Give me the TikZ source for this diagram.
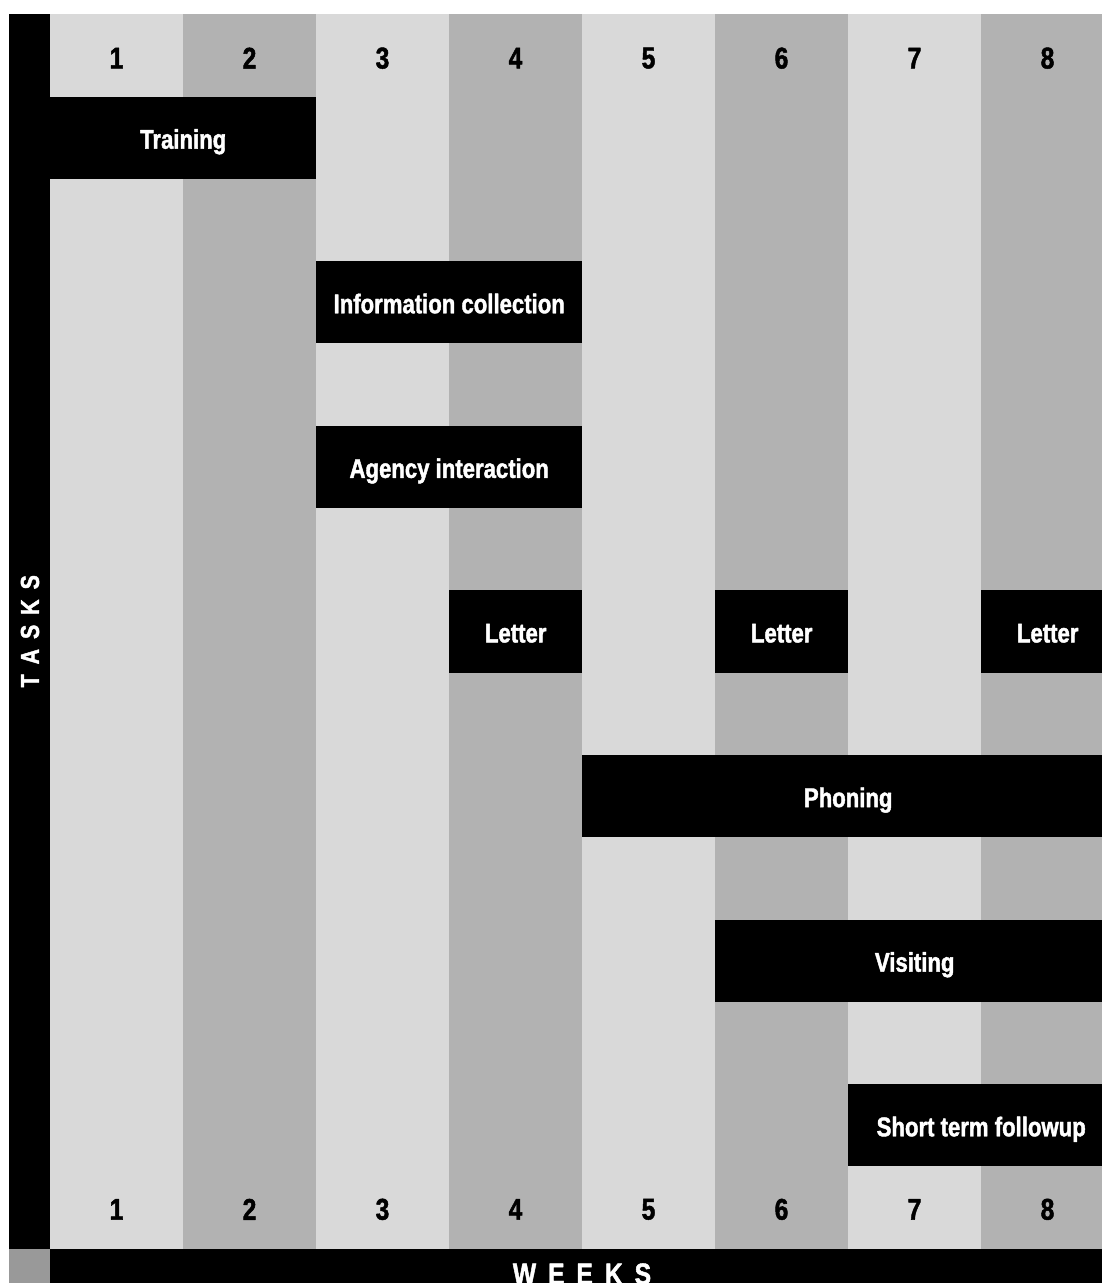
\documentclass[tikz,border=0pt]{standalone}
\usepackage{fontspec}
\setmainfont{Liberation Sans}[FakeStretch=0.82, BoldFeatures={FakeBold=1.6}]
\newcommand{\gfont}[1]{\bfseries\fontsize{#1}{#1}\selectfont}
\begin{document}
\begin{tikzpicture}[x=1pt,y=-1pt, line join=round,
    lite/.style={fill=black!15},
    dark/.style={fill=black!30},
    bar/.style={fill=black, text=white, inner sep=0pt, minimum height=82.3pt, text height=22pt, text depth=0pt,
        anchor=north west, font=\gfont{27}},
    weeknum/.style={font=\gfont{30}},
    axislabel/.style={text=white, inner sep=0pt, font=\gfont{26}}]
        \def\xo{50} \def\yo{14} \def\cw{133} \def\rh{82.3}
        \useasboundingbox (0,0) rectangle (1102,1283);
        \clip (0,0) rectangle (1102,1283);
        \foreach \i in {1,...,8}{
            \pgfmathsetmacro\shade{isodd(\i) ? "lite" : "dark"}
            \fill[\shade] ({\xo+(\i-1)*\cw},\yo) rectangle ({\xo+\i*\cw},{\yo+15*\rh});
            \node[weeknum] (top\i) at ({\xo+(\i-0.5)*\cw},{\yo+0.5*\rh+3}) {\i};
            \node[weeknum] (bot\i) at ({\xo+(\i-0.5)*\cw},{\yo+14.5*\rh+2}) {\i};
        }
        % bars: name / first week / weeks / row / text
        \foreach \n/\s/\l/\r/\t in {training/1/2/1/Training, info/3/2/3/Information collection,
                agency/3/2/5/Agency interaction, letterA/4/1/7/Letter, letterB/6/1/7/Letter,
                letterC/8/1/7/Letter, phoning/5/4/9/Phoning, visiting/6/3/11/Visiting,
                followup/7/2/13/Short term followup}
            \node[bar, minimum width=\l*\cw*1pt] (\n) at ({\xo+(\s-1)*\cw},{\yo+\r*\rh}) {\t};
        \fill[black] (9,\yo) rectangle (\xo,{\yo+15*\rh});
        \fill[black!40] (9,{\yo+15*\rh}) rectangle (\xo,1320);
        \fill[black] (\xo,{\yo+15*\rh}) rectangle ({\xo+8*\cw},1320);
        \node[axislabel, rotate=90] (tasks) at (30,{\yo+7.5*\rh}) {T\hspace{10pt}A\hspace{10pt}S\hspace{10pt}K\hspace{10pt}S};
        \node[axislabel, font=\gfont{30}] (weeks) at ({\xo+4*\cw},1274) {W\hspace{12pt}E\hspace{12pt}E\hspace{12pt}K\hspace{12pt}S};
    \end{tikzpicture}
\end{document}
